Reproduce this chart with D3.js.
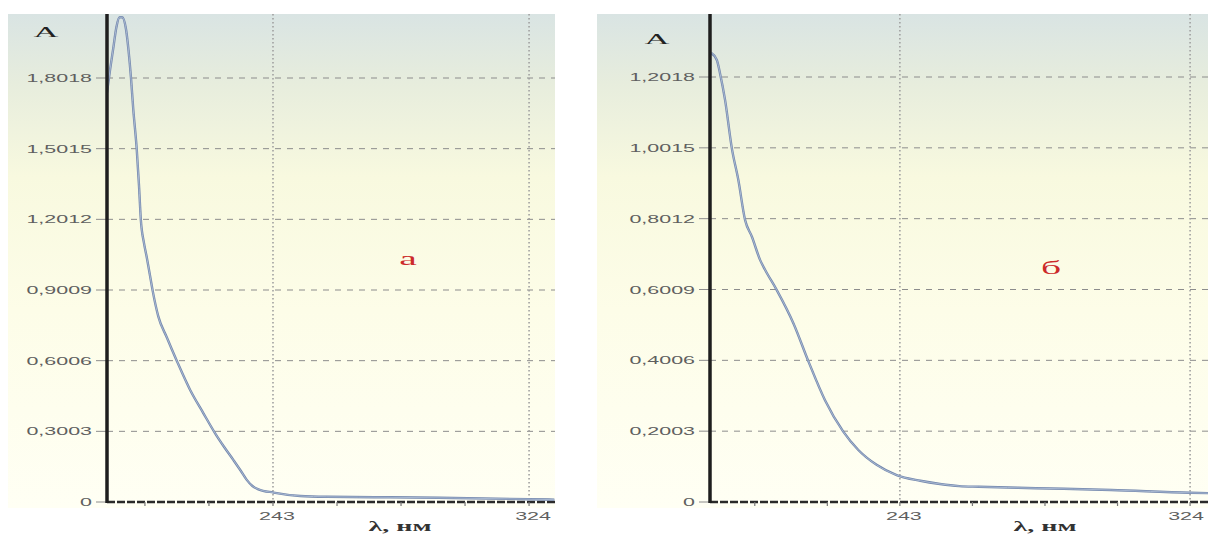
<!DOCTYPE html>
<html><head><meta charset="utf-8">
<script src="https://cdn.jsdelivr.net/npm/d3@7"></script>
<style>html,body{margin:0;padding:0;background:#fff;overflow:hidden}</style>
</head><body>
<svg id="chart" width="1208" height="535"></svg>
<script>
// ---- data ----
const wavelengthA = [190.5,191.5,192.5,193.5,194.5,195.3,196.5,197.3,198.1,198.8,199.9,200.6,201.2,202.2,203,204,205,206.7,209.4,212.7,216.8,221,224.7,227.5,230.5,232.7,234.7,236.5,238.4,243.2,251.6,260,280,300,324,332];
const absorbanceA = [1.74,1.84,1.93,2.02,2.06,2.06,2.01,1.92,1.80,1.67,1.50,1.35,1.20,1.10,1.045,0.97,0.894,0.79,0.70,0.596,0.476,0.377,0.292,0.235,0.178,0.135,0.094,0.068,0.054,0.040,0.0255,0.022,0.020,0.017,0.012,0.010];
const wavelengthB = [190.3,191.9,192.8,194.2,196.1,197.9,199.8,201.7,204,205.4,208.6,213.3,217.5,222.1,227.2,231.4,236.5,242.1,248.7,254.2,259.6,265,281,302,324,329];
const absorbanceB = [1.27,1.25,1.212,1.137,1.0,0.911,0.797,0.750,0.684,0.656,0.600,0.505,0.397,0.288,0.199,0.147,0.105,0.076,0.060,0.051,0.045,0.043,0.039,0.034,0.026,0.025];
const yTicksA = [0,0.3003,0.6006,0.9009,1.2012,1.5015,1.8018];
const yTicksB = [0,0.2003,0.4006,0.6009,0.8012,1.0015,1.2018];
const xTicks = [243,324];
const xMinorTicks = [202.5,222.75,263.25,283.5,303.75];
const panelLabels = ["а","б"];
const yAxisTitle = "A";
const xAxisTitle = "λ, нм";

// ---- layout ----
const svg = d3.select("#chart");
const defs = svg.append("defs");
const grad = defs.append("linearGradient").attr("id","bg").attr("x1",0).attr("y1",0).attr("x2",0).attr("y2",1);
[["0%","#d9e4e3"],["14%","#e7eddd"],["33%","#f8f9df"],["60%","#fdfde8"],["100%","#fffff4"]]
  .forEach(([o,c])=>grad.append("stop").attr("offset",o).attr("stop-color",c));

const fmt = v => v===0 ? "0" : v.toFixed(4).replace(".", ",");

const panels = [
  {bgX0:8,bgX1:555,axisX:107,xDom:[190.5,332.2],yDom:[0,1.8018],yTop:78,wl:wavelengthA,ab:absorbanceA,yTicks:yTicksA,
   label:panelLabels[0],labelX:408,labelY:265,aX:46,aY:37,titleX:400,titleY:531},
  {bgX0:597,bgX1:1208,axisX:710,xDom:[190,329],yDom:[0,1.2018],yTop:77,wl:wavelengthB,ab:absorbanceB,yTicks:yTicksB,
   label:panelLabels[1],labelX:1051,labelY:274,aX:657,aY:44,titleX:1045,titleY:531}
];
const panelTop = 14, zeroY = 502, bgBottom = 508;
const sx = 1.95; // horizontal stretch of glyphs in the reference

panels.forEach((p,i)=>{
  const g = svg.append("g");
  g.append("rect").attr("x",p.bgX0).attr("y",panelTop).attr("width",p.bgX1-p.bgX0).attr("height",bgBottom-panelTop).attr("fill","url(#bg)");
  const x = d3.scaleLinear().domain(p.xDom).range([p.axisX,p.bgX1]);
  const y = d3.scaleLinear().domain(p.yDom).range([zeroY,p.yTop]);

  const clipId = "clip"+i;
  defs.append("clipPath").attr("id",clipId).append("rect").attr("x",p.axisX).attr("y",panelTop).attr("width",p.bgX1-p.axisX).attr("height",zeroY-panelTop+2);

  g.selectAll(".hg").data(p.yTicks.filter(v=>v>0)).join("line")
    .attr("x1",p.axisX).attr("x2",p.bgX1).attr("y1",d=>y(d)).attr("y2",d=>y(d))
    .attr("stroke","#8c8c8c").attr("stroke-width",1).attr("stroke-dasharray","6,6");
  g.selectAll(".vg").data(xTicks).join("line")
    .attr("x1",d=>x(d)).attr("x2",d=>x(d)).attr("y1",panelTop).attr("y2",zeroY)
    .attr("stroke","#a0a0a0").attr("stroke-width",1.6).attr("stroke-dasharray","1.5,2.5");

  g.selectAll(".yt").data(p.yTicks).join("line")
    .attr("x1",p.axisX-11).attr("x2",p.axisX).attr("y1",d=>y(d)).attr("y2",d=>y(d))
    .attr("stroke","#8c8c8c").attr("stroke-width",1);
  g.selectAll(".yl").data(p.yTicks).join("text")
    .attr("transform",d=>`translate(${p.axisX-15},${y(d)+4}) scale(${sx},1)`)
    .attr("text-anchor","end").attr("font-family","Liberation Sans, Arial, sans-serif")
    .attr("font-size",11).attr("fill","#5f5f5f").text(fmt);

  g.selectAll(".xl").data(xTicks).join("text")
    .attr("transform",d=>`translate(${Math.min(x(d)+4, p.bgX1-22)},${520}) scale(${sx},1)`)
    .attr("text-anchor","middle").attr("font-family","Liberation Sans, Arial, sans-serif")
    .attr("font-size",11).attr("fill","#5f5f5f").text(d=>d);

  g.append("line").attr("x1",p.axisX).attr("x2",p.bgX1).attr("y1",zeroY).attr("y2",zeroY)
    .attr("stroke","#2a2a2a").attr("stroke-width",2.5).attr("stroke-dasharray","8,2");
  g.selectAll(".mt").data(xMinorTicks.concat(xTicks)).join("line")
    .attr("x1",d=>x(d)).attr("x2",d=>x(d)).attr("y1",zeroY).attr("y2",zeroY+4)
    .attr("stroke","#777").attr("stroke-width",1.2);

  const line = d3.line().x((d,k)=>x(p.wl[k])).y(d=>y(d)).curve(d3.curveMonotoneX);
  g.append("path").datum(p.ab).attr("d",line).attr("clip-path",`url(#${clipId})`)
    .attr("fill","none").attr("stroke","#7488ad").attr("stroke-width",2.4);
  g.append("path").datum(p.ab).attr("d",line).attr("clip-path",`url(#${clipId})`)
    .attr("fill","none").attr("stroke","#aebdd6").attr("stroke-width",0.9);

  g.append("line").attr("x1",p.axisX).attr("x2",p.axisX).attr("y1",panelTop).attr("y2",zeroY+1)
    .attr("stroke","#1e1e1e").attr("stroke-width",3.5);

  g.append("text").attr("transform",`translate(${p.aX},${p.aY}) scale(2.3,1)`)
    .attr("text-anchor","middle").attr("font-family","Liberation Serif, Times New Roman, serif")
    .attr("font-size",15).attr("fill","#222").text(yAxisTitle);
  g.append("text").attr("transform",`translate(${p.titleX},${p.titleY}) scale(2.0,1)`)
    .attr("text-anchor","middle").attr("font-family","Liberation Serif, Times New Roman, serif")
    .attr("font-size",14).attr("font-weight","bold").attr("fill","#333").text(xAxisTitle);
  g.append("text").attr("transform",`translate(${p.labelX},${p.labelY}) scale(2.2,1)`)
    .attr("text-anchor","middle").attr("font-family","Liberation Serif, Times New Roman, serif")
    .attr("font-size",18).attr("fill","#cc2a2a").text(p.label);
});
</script>
</body></html>
